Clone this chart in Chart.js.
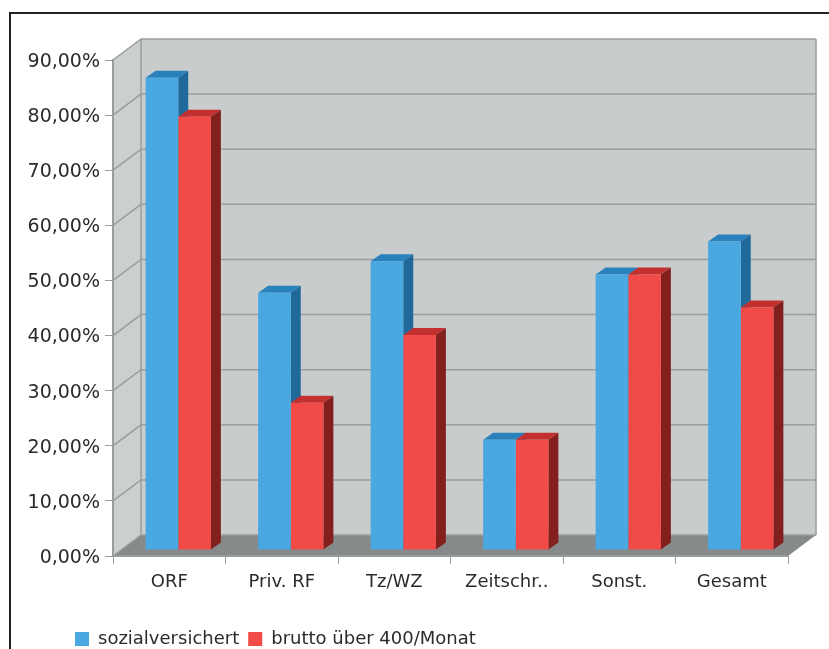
<!DOCTYPE html>
<html>
<head>
<meta charset="utf-8">
<title>Chart</title>
<script src="https://cdn.jsdelivr.net/npm/chart.js@4/dist/chart.umd.min.js"></script>
<style>
  html, body { margin: 0; padding: 0; background: #fff; overflow: hidden; }
  #frame { position: absolute; left: 9px; top: 12px; right: 0; bottom: 0; border-top: 2px solid #222; border-left: 2px solid #222; }
  #chart { position: absolute; left: 0; top: 0; }
</style>
</head>
<body>
<div id="frame"></div>
<canvas id="chart" width="829" height="649"></canvas>
<script>
const categories = ['ORF', 'Priv. RF', 'Tz/WZ', 'Zeitschr..', 'Sonst.', 'Gesamt'];
const sozialversichert = [85.7, 46.7, 52.4, 20, 50, 56];
const brutto = [78.6, 26.7, 39, 20, 50, 44];
const seriesNames = ['sozialversichert', 'brutto über 400/Monat'];

const fontFamily = '"DejaVu Sans", Verdana, sans-serif';
const lineColor = '#9a9d9d';
const faces = [
  { top: '#2a82bd', side: '#1f6a9a' },
  { top: '#c33030', side: '#83201e' }
];

function poly(ctx, pts, fill) {
  ctx.fillStyle = fill;
  ctx.beginPath();
  pts.forEach((p, i) => i ? ctx.lineTo(p[0], p[1]) : ctx.moveTo(p[0], p[1]));
  ctx.closePath();
  ctx.fill();
}

// fake 3D room behind the bars, follows the scales
const walls = {
  id: 'walls',
  afterLayout(chart) {
    // legend starts under the axis labels, not at the canvas edge
    chart.legend.left = 66;
  },
  beforeDraw(chart) {
    const { ctx, chartArea: a, scales } = chart;
    const dx = 28, dy = 21;
    poly(ctx, [[a.left, a.top], [a.left + dx, a.top - dy], [a.left + dx, a.bottom - dy], [a.left, a.bottom]], '#cccfd0');
    poly(ctx, [[a.left + dx, a.top - dy], [a.right + dx, a.top - dy], [a.right + dx, a.bottom - dy], [a.left + dx, a.bottom - dy]], '#c9cccd');
    poly(ctx, [[a.left, a.bottom], [a.right, a.bottom], [a.right + dx, a.bottom - dy], [a.left + dx, a.bottom - dy]], '#868a8a');
    ctx.strokeStyle = lineColor;
    ctx.lineWidth = 1.5;
    scales.y.ticks.forEach(t => {
      const y = scales.y.getPixelForValue(t.value);
      ctx.beginPath();
      ctx.moveTo(a.left, y);
      ctx.lineTo(a.left + dx, y - dy);
      ctx.lineTo(a.right + dx, y - dy);
      ctx.stroke();
    });
    ctx.beginPath();
    ctx.moveTo(a.left + dx, a.top - dy);
    ctx.lineTo(a.left + dx, a.bottom - dy);
    ctx.moveTo(a.right + dx, a.top - dy);
    ctx.lineTo(a.right + dx, a.bottom - dy);
    ctx.stroke();
  }
};

// bars stand a bit inside the room, top and side faces go under the fronts
const barFaces = {
  id: 'barFaces',
  beforeDatasetsDraw(chart) {
    const ctx = chart.ctx;
    const dx = 10, dy = 7;
    ctx.save();
    ctx.translate(9, -6);
    chart.data.datasets.forEach((ds, i) => {
      chart.getDatasetMeta(i).data.forEach(bar => {
        const left = bar.x - bar.width / 2;
        const right = bar.x + bar.width / 2;
        poly(ctx, [[left, bar.y], [left + dx, bar.y - dy], [right + dx, bar.y - dy], [right, bar.y]], faces[i].top);
        poly(ctx, [[right, bar.y], [right + dx, bar.y - dy], [right + dx, bar.base - dy], [right, bar.base]], faces[i].side);
      });
    });
  },
  afterDatasetsDraw(chart) {
    chart.ctx.restore();
  }
};

new Chart(document.getElementById('chart'), {
  type: 'bar',
  data: {
    labels: categories,
    datasets: [
      { label: seriesNames[0], data: sozialversichert, backgroundColor: '#4aa8e0' },
      { label: seriesNames[1], data: brutto, backgroundColor: '#f24a46' }
    ]
  },
  plugins: [walls, barFaces],
  options: {
    responsive: false,
    animation: false,
    layout: { padding: { left: 0, right: 41, top: 60, bottom: -9 } },
    categoryPercentage: 0.58,
    barPercentage: 1,
    plugins: {
      tooltip: { enabled: false },
      legend: {
        position: 'bottom',
        align: 'start',
        labels: {
          boxWidth: 14,
          boxHeight: 14,
          padding: 9,
          color: '#2b2b2b',
          font: { family: fontFamily, size: 18 }
        }
      }
    },
    scales: {
      x: {
        afterFit(scale) { scale.height = 65; },
        grid: { drawOnChartArea: false, color: lineColor, tickLength: 8, offset: true },
        border: { color: lineColor, width: 2 },
        ticks: { color: '#2b2b2b', padding: 8, maxRotation: 0, autoSkip: false, font: { family: fontFamily, size: 18 } }
      },
      y: {
        min: 0,
        max: 90,
        afterFit(scale) { scale.width = 113; },
        grid: { drawOnChartArea: false, color: lineColor, tickLength: 8 },
        border: { color: lineColor, width: 2 },
        ticks: {
          stepSize: 10,
          color: '#2b2b2b',
          padding: 5,
          labelOffset: 2,
          font: { family: fontFamily, size: 19 },
          callback: value => value.toFixed(2).replace('.', ',') + '%'
        }
      }
    }
  }
});
</script>
</body>
</html>
